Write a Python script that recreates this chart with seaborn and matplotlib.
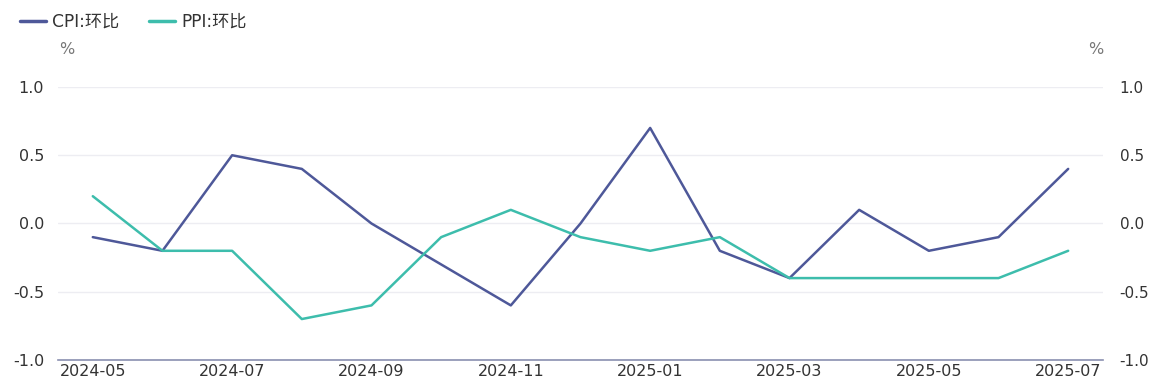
import pandas as pd
import matplotlib.pyplot as plt
import seaborn as sns

months = ["2024-05", "2024-06", "2024-07", "2024-08", "2024-09", "2024-10", "2024-11",
          "2024-12", "2025-01", "2025-02", "2025-03", "2025-04", "2025-05", "2025-06", "2025-07"]
cpi = [-0.1, -0.2, 0.5, 0.4, 0.0, -0.3, -0.6, 0.0, 0.7, -0.2, -0.4, 0.1, -0.2, -0.1, 0.4]
ppi = [0.2, -0.2, -0.2, -0.7, -0.6, -0.1, 0.1, -0.1, -0.2, -0.1, -0.4, -0.4, -0.4, -0.4, -0.2]
series_names = ["CPI:环比", "PPI:环比"]
colors = {"CPI:环比": "#4e5899", "PPI:环比": "#3dbdac"}

df = pd.concat([
    pd.DataFrame({"idx": range(len(months)), "month": months, "value": cpi, "series": series_names[0]}),
    pd.DataFrame({"idx": range(len(months)), "month": months, "value": ppi, "series": series_names[1]}),
], ignore_index=True)

sns.set_theme(style="white")
plt.rcParams['font.family'] = ['DejaVu Sans', 'Noto Sans CJK SC']

fig = plt.figure(figsize=(11.64, 3.91), dpi=100)
ax = fig.add_axes([0.0498, 0.0793, 0.8978, 0.6982])

sns.lineplot(data=df, x="idx", y="value", hue="series", palette=colors,
             linewidth=1.8, ax=ax, legend=False)

ax.set_xlim(-0.5, len(months) - 0.5)
ax.set_ylim(-1.0, 1.0)
ticks = [-1.0, -0.5, 0.0, 0.5, 1.0]
ax.set_yticks(ticks)
ax.set_yticklabels([f"{t:.1f}" for t in ticks])
ax.set_xticks(range(0, len(months), 2))
ax.set_xticklabels(months[::2])
ax.set_xlabel("")
ax.set_ylabel("")
ax.grid(axis="y", color="#ededf2", linewidth=1)
for s in ["top", "left", "right"]:
    ax.spines[s].set_visible(False)
ax.spines["bottom"].set_color("#8a90b0")
ax.spines["bottom"].set_linewidth(1.2)
ax.tick_params(axis="y", length=0, labelsize=11.5, colors="#333333", pad=10)
ax.tick_params(axis="x", length=0, labelsize=11.5, colors="#333333", pad=3)

ax2 = ax.twinx()
ax2.set_ylim(-1.0, 1.0)
ax2.set_yticks(ticks)
ax2.set_yticklabels([f"{t:.1f}" for t in ticks])
for s in ax2.spines.values():
    s.set_visible(False)
ax2.tick_params(axis="y", length=0, labelsize=11, colors="#333333", pad=12)

fig.text(67 / 1164, 1 - 49 / 391, "%", fontsize=11.5, color="#777777", ha="center", va="center")
fig.text(1096 / 1164, 1 - 49 / 391, "%", fontsize=11.5, color="#777777", ha="center", va="center")

handles = [plt.Line2D([0], [0], color=colors[n], linewidth=2.5) for n in series_names]
fig.legend(handles, series_names, loc="center left", bbox_to_anchor=(20 / 1164, 1 - 22 / 391), ncol=2,
           frameon=False, fontsize=12.3, handlelength=1.5, handletextpad=0.35, columnspacing=1.8,
           borderpad=0, borderaxespad=0, labelcolor="#333333")

fig.savefig("out.png", dpi=100)
